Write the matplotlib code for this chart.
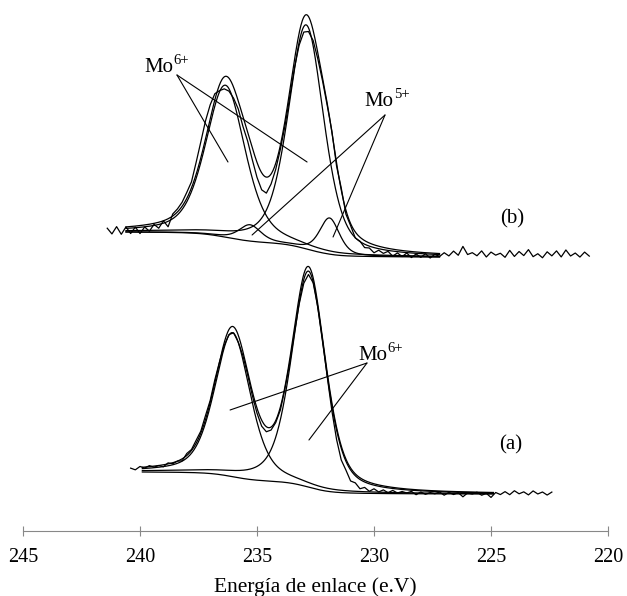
import numpy as np
import matplotlib
matplotlib.use('Agg')
import matplotlib.pyplot as plt

plt.rcParams['font.family'] = 'Liberation Serif'

# ---- datos (intensidad en unidades arbitrarias) ----
ticks_x = [245, 240, 235, 230, 225, 220]

# espectro (b): componentes ajustadas  (centro eV, altura, FWHM eV)
b_mo6_centro = [236.35, 232.9]
b_mo6_altura = [152, 224]
b_mo6_fwhm = [2.0, 1.8]
b_mo5_centro = [235.3, 231.9]
b_mo5_altura = [16, 36]
b_mo5_fwhm = [1.1, 1.0]
b_rango = [240.6, 227.2]        # rango del ajuste
b_fondo = [299, 274]            # nivel del fondo a cada extremo
b_datos_rango = [241.4, 220.8]
b_residuo = [0, -6, 1, -7, 0, -7, -1, -8, -2, -7, -1, -6, 0, -8, 2, 3,
             4, 6, 6, 12, 16, 18, 14, 6, -6, -12, -13, -11, -8, -10, -9, -12,
             -15, -17, -16, -10, -6, -4, -5, -6, -8, -12, -15, -15, -10, -6,
             -3, -2, 1, -3, 2, -4, -2, -6, -4, -7, -5, -8, -4, -6, -3, -7,
             -3, -6, -2, -6, -2, -5, -1, -5, -1, -3, 1, -2, 3, -1, 8, 0,
             2, -1, 4, -2, 3, 0, 2, -2, 5, -1, 4, 0, 6, -1, 2, -2,
             4, 0, 5, -1, 6, 0, 3, -1, 4, 0]

# espectro (a)
a_mo6_centro = [236.05, 232.8]
a_mo6_altura = [144, 216]
a_mo6_fwhm = [1.8, 1.7]
a_rango = [239.9, 224.9]
a_fondo = [59, 37]
a_datos_rango = [240.4, 222.4]
a_residuo = [0, -2, 1, -1, 1, -1, 0, -2, 1, -1, 0, -2, 2, 1, 3, 2,
             4, 2, 3, 0, -3, -5, -6, -7, -4, -3, -4, -5, -6, -5, -3, -2,
             -3, -2, -4, -5, -7, -9, -8, -5, -3, -2, -4, -8, -12, -14, -11, -13,
             -9, -11, -7, -9, -5, -7, -4, -6, -3, -5, -3, -4, -2, -5, -2, -4,
             -2, -3, -1, -4, -1, -3, -1, -5, -1, -2, 0, -3, -1, -5, 0, -2,
             1, -2, 2, -1, 1, -2, 2, -1, 1, -2, 1]

MEZCLA = 0.45   # fraccion lorentziana


def pico(E, c, h, w, m=MEZCLA):
    # pseudo-Voigt (Gauss-Lorentz)
    g = np.exp(-4 * np.log(2) * ((E - c) / w) ** 2)
    l = 1 / (1 + 4 * ((E - c) / w) ** 2)
    return h * ((1 - m) * g + m * l)


def shirley(E, picos, fondo):
    # fondo tipo Shirley: escalon proporcional al area acumulada
    total = np.sum(picos, axis=0)
    acum = np.cumsum(total[::-1])[::-1]
    return fondo[1] + (fondo[0] - fondo[1]) * acum / acum[0]


fig = plt.figure(figsize=(6.27, 5.96), dpi=100)
ax = fig.add_axes([23 / 627, 65 / 596, 585 / 627, 531 / 596])


def dibujar(rango, fondo, grupos, datos_rango, residuo):
    E = np.linspace(rango[0], rango[1], 700)
    picos = []
    curvas = []
    for centros, alturas, anchos, unir in grupos:
        comp = [pico(E, c, h, w) for c, h, w in zip(centros, alturas, anchos)]
        picos += comp
        if unir:
            curvas.append(np.sum(comp, axis=0))
        else:
            curvas += comp
    bg = shirley(E, picos, fondo)
    env = bg + np.sum(picos, axis=0)
    ax.plot(E, bg, color='black', lw=0.9)
    for cv in curvas:
        ax.plot(E, bg + cv, color='black', lw=0.9)
    ax.plot(E, env, color='black', lw=0.9)
    # datos experimentales
    Ed = np.linspace(datos_rango[0], datos_rango[1], len(residuo))
    envd = np.interp(Ed, E[::-1], bg[::-1])
    for centros, alturas, anchos, unir in grupos:
        for c, h, w in zip(centros, alturas, anchos):
            envd = envd + pico(Ed, c, h, w)
    ax.plot(Ed, envd + np.array(residuo), color='black', lw=0.9)


dibujar(b_rango, b_fondo,
        [(b_mo6_centro, b_mo6_altura, b_mo6_fwhm, False),
         (b_mo5_centro, b_mo5_altura, b_mo5_fwhm, True)],
        b_datos_rango, b_residuo)
dibujar(a_rango, a_fondo,
        [(a_mo6_centro, a_mo6_altura, a_mo6_fwhm, False)],
        a_datos_rango, a_residuo)


def etiqueta(x, y, base, sup):
    ax.text(x, y, base, fontsize=15, ha='right', va='baseline')
    ax.annotate(sup, xy=(x, y), xytext=(0.5, 5.5), textcoords='offset points',
                fontsize=10.5, ha='left', va='baseline')


# etiquetas y lineas guia
lp = dict(arrowstyle='-', lw=0.8, color='black', shrinkA=0, shrinkB=0)
etiqueta(238.59, 459, 'Mo', '6+')
ax.annotate('', xy=(236.24, 369), xytext=(238.42, 456), arrowprops=lp)
ax.annotate('', xy=(232.86, 369), xytext=(238.42, 456), arrowprops=lp)
etiqueta(229.19, 425, 'Mo', '5+')
ax.annotate('', xy=(235.21, 296), xytext=(229.53, 416), arrowprops=lp)
ax.annotate('', xy=(231.75, 294), xytext=(229.53, 416), arrowprops=lp)
etiqueta(229.44, 171, 'Mo', '6+')
ax.annotate('', xy=(236.15, 121), xytext=(230.3, 168), arrowprops=lp)
ax.annotate('', xy=(232.78, 91), xytext=(230.3, 168), arrowprops=lp)
ax.text(224.1, 312, '(b)', fontsize=15, ha='center', va='center')
ax.text(224.15, 86, '(a)', fontsize=15, ha='center', va='center')

ax.set_xlim(245, 220)
ax.set_ylim(0, 531)
ax.set_xticks(ticks_x)
ax.set_yticks([])
for s in ['left', 'right', 'top']:
    ax.spines[s].set_visible(False)
ax.spines['bottom'].set_color('#888888')
ax.tick_params(axis='x', direction='inout', length=7, color='#888888',
               labelsize=14.5, pad=9)
ax.set_xlabel('Energía de enlace (e.V)', fontsize=15.5, labelpad=7)
ax.patch.set_alpha(0)

fig.savefig('out.png', dpi=100)
